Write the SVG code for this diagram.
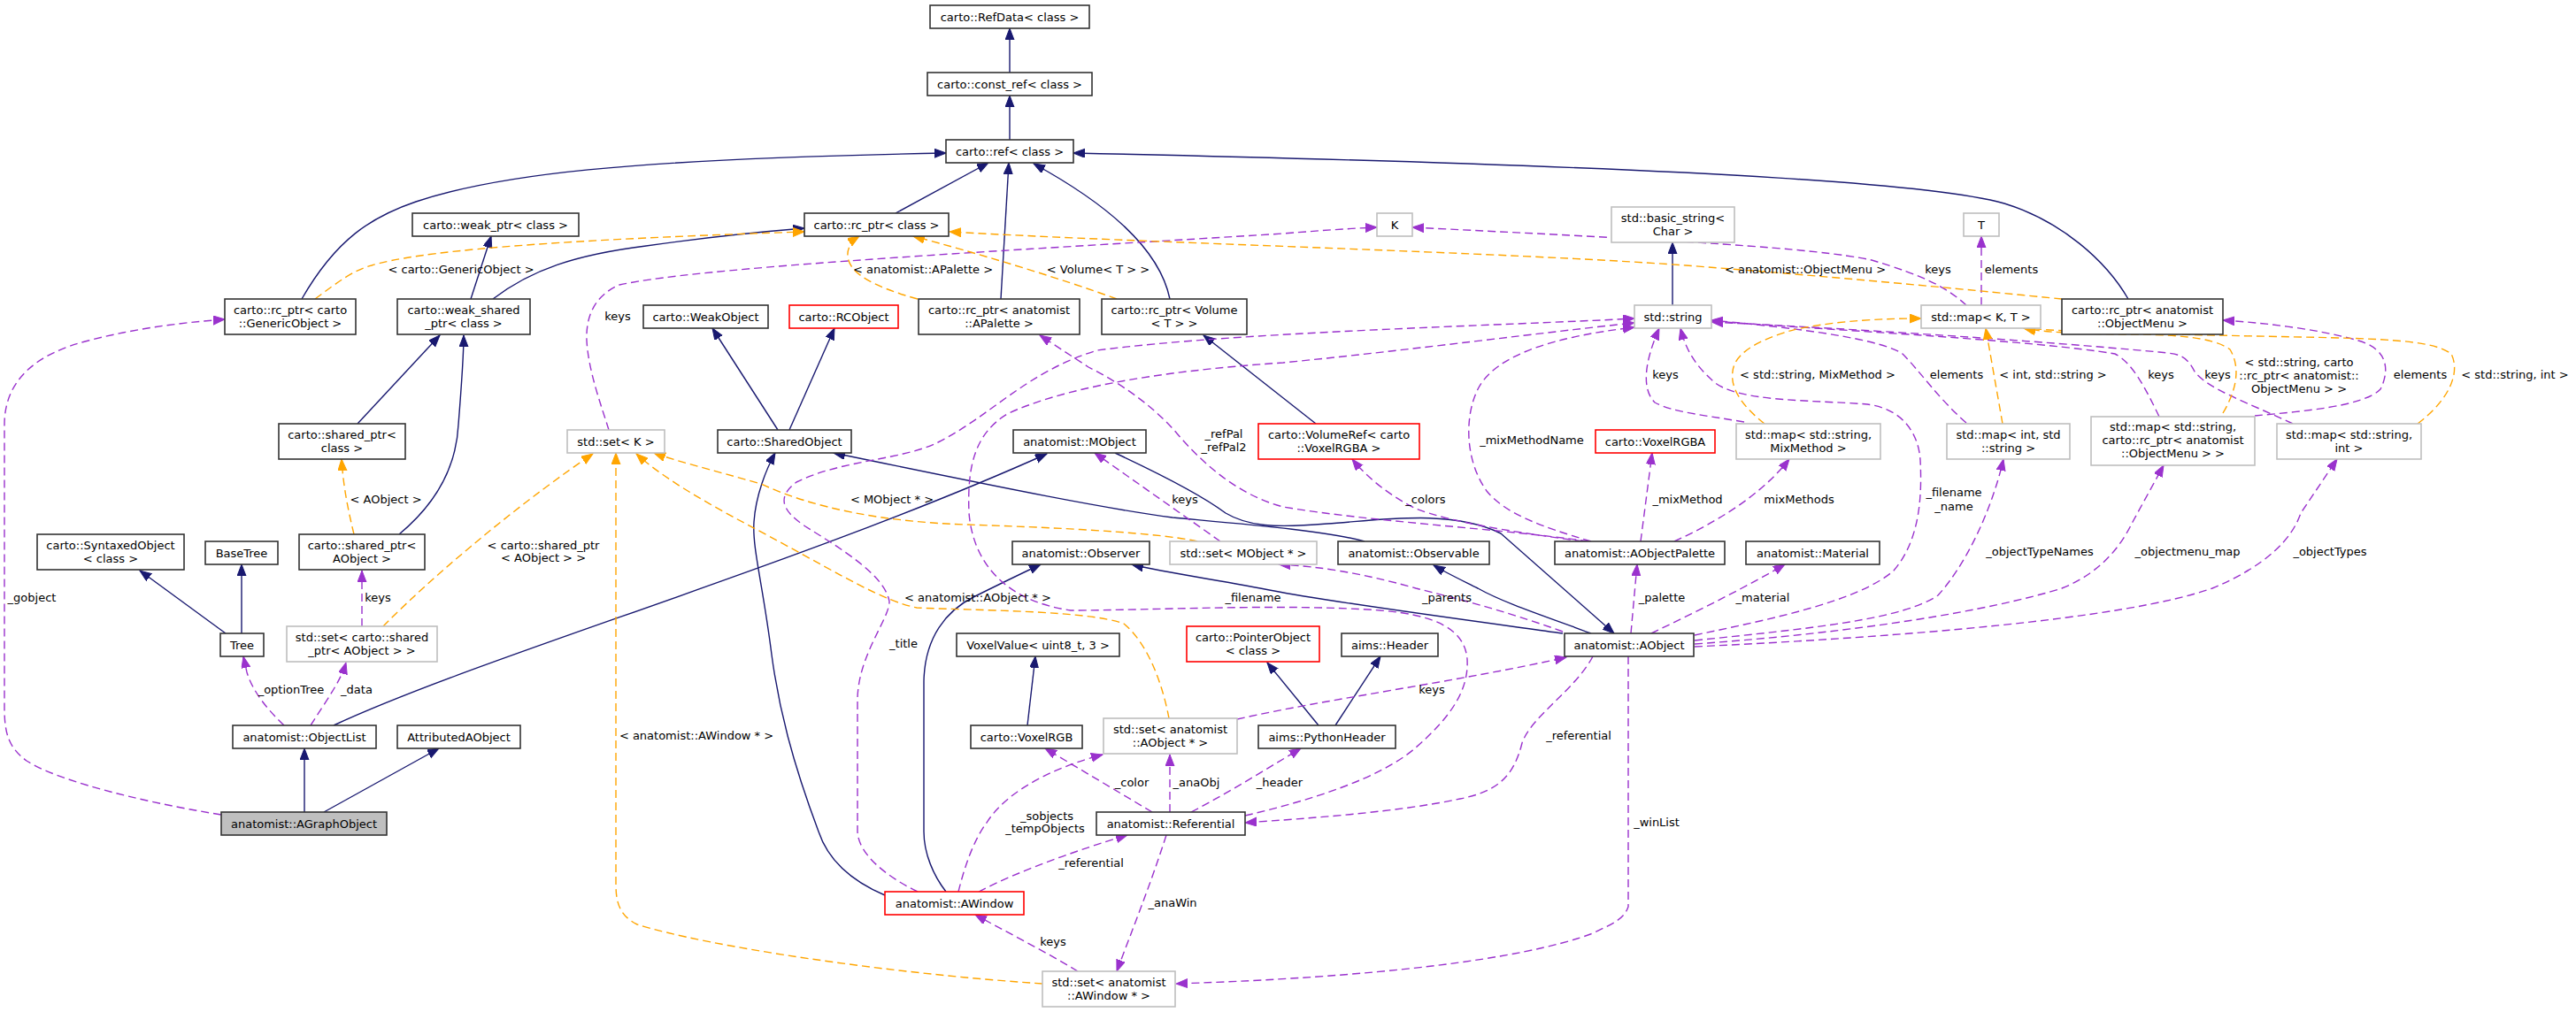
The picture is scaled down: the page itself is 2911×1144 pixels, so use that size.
<svg xmlns="http://www.w3.org/2000/svg" width="2911" height="1144" viewBox="0 0 2911 1144">
<defs>
<style>
text{font-family:"DejaVu Sans","Liberation Sans",sans-serif;font-size:13px;fill:#000;text-anchor:middle}
.doc{fill:#fff;stroke:#333;stroke-width:1.6}
.ext{fill:#fff;stroke:#bfbfbf;stroke-width:1.6}
.red{fill:#fff;stroke:#ff0000;stroke-width:1.6}
.cur{fill:#bfbfbf;stroke:#333;stroke-width:1.6}
.inh{fill:none;stroke:#191970;stroke-width:1.4;marker-end:url(#ai)}
.use{fill:none;stroke:#9a32cd;stroke-width:1.4;stroke-dasharray:9,5;marker-end:url(#au)}
.tpl{fill:none;stroke:#ffa500;stroke-width:1.4;stroke-dasharray:9,5;marker-end:url(#at)}
</style>
<marker id="ai" markerUnits="userSpaceOnUse" markerWidth="14" markerHeight="11" refX="13" refY="5" orient="auto"><path d="M0,0 L13,5 L0,10 z" fill="#191970" stroke="#191970"/></marker>
<marker id="au" markerUnits="userSpaceOnUse" markerWidth="14" markerHeight="11" refX="13" refY="5" orient="auto"><path d="M0,0 L13,5 L0,10 z" fill="#9a32cd" stroke="#9a32cd"/></marker>
<marker id="at" markerUnits="userSpaceOnUse" markerWidth="14" markerHeight="11" refX="13" refY="5" orient="auto"><path d="M0,0 L13,5 L0,10 z" fill="#ffa500" stroke="#ffa500"/></marker>
</defs>
<rect x="0" y="0" width="2911" height="1144" fill="#fff"/>
<g id="edges">
<path class="inh" d="M1141,82 L1141,32"/>
<path class="inh" d="M1141,158 L1141,108"/>
<path class="inh" d="M1012,241 L1117,184"/>
<path class="inh" d="M1131,338 L1140,184"/>
<path class="inh" d="M1322,338 C1310,280 1250,230 1168,185"/>
<path class="inh" d="M341,338 C380,270 420,245 470,228 C560,198 700,180 1069,173"/>
<path class="inh" d="M2405,338 C2380,295 2330,250 2265,230 C2200,212 2000,190 1213,173"/>
<path class="inh" d="M532,338 L555,267"/>
<path class="inh" d="M557,338 C600,305 650,288 730,278 C800,268 860,262 909,258"/>
<path class="inh" d="M404,479 L497,379"/>
<path class="inh" d="M451,604 C480,580 515,540 518,480 C522,430 524,400 524,379"/>
<path class="inh" d="M879,486 L805,371"/>
<path class="inh" d="M892,486 L943,371"/>
<path class="inh" d="M1487,479 L1360,379"/>
<path class="inh" d="M1542,612 C1500,600 1400,592 1325,585 C1250,575 1150,555 942,512"/>
<path class="inh" d="M1260,512 C1320,540 1365,565 1385,580 C1410,595 1440,597 1500,592 C1560,588 1640,575 1696,603 L1824,716"/>
<path class="inh" d="M1798,716 C1750,698 1700,682 1670,665 C1650,655 1635,648 1620,639"/>
<path class="inh" d="M1766,716 C1650,700 1500,680 1440,668 C1380,656 1320,648 1279,638"/>
<path class="inh" d="M1069,1008 C1055,990 1044,965 1044,940 L1044,770 C1045,720 1070,690 1100,675 C1130,660 1155,648 1176,638"/>
<path class="inh" d="M1000,1012 C960,995 935,970 925,940 C895,860 880,800 872,740 C862,660 850,620 852,590 C854,560 866,530 876,512"/>
<path class="inh" d="M377,820 C550,740 900,640 1183,513"/>
<path class="inh" d="M344,918 L344,846"/>
<path class="inh" d="M366,918 L496,846"/>
<path class="inh" d="M255,716 L158,645"/>
<path class="inh" d="M273,716 L273,638"/>
<path class="inh" d="M1161,820 L1170,742"/>
<path class="inh" d="M1490,820 L1432,749"/>
<path class="inh" d="M1509,820 L1560,742"/>
<path class="inh" d="M1890,345 L1890,274"/>

<path class="use" d="M250,921 C150,905 60,880 30,860 C10,845 5,830 5,800 L5,480 C5,430 40,400 100,385 C150,372 200,365 254,361"/>
<path class="use" d="M321,820 C300,800 285,780 279,760 L275,742"/>
<path class="use" d="M351,820 C370,790 385,770 391,749"/>
<path class="use" d="M409,708 L409,645"/>
<path class="use" d="M688,486 C680,460 665,420 663,385 C662,360 670,335 700,322 C800,300 1200,280 1450,264 C1500,260 1530,258 1556,257"/>
<path class="use" d="M2222,345 C2200,325 2175,312 2115,294 C2050,280 1900,272 1596,257"/>
<path class="use" d="M2239,345 L2239,267"/>
<path class="use" d="M1798,612 C1740,595 1700,580 1680,555 C1655,520 1655,470 1670,440 C1690,400 1760,380 1847,370"/>
<path class="use" d="M1971,477 C1930,470 1890,466 1870,455 C1855,440 1858,410 1875,371"/>
<path class="use" d="M1915,718 C2000,700 2100,680 2140,645 C2170,610 2172,560 2170,520 C2168,490 2150,462 2110,457 C2050,452 1960,455 1935,430 C1915,412 1905,395 1899,371"/>
<path class="use" d="M1037,1008 C1000,990 970,965 969,940 L969,790 C970,740 1005,700 1005,680 C1000,650 950,620 910,595 C880,575 880,560 900,545 C950,520 1020,520 1060,500 C1120,470 1160,420 1240,396 C1400,375 1700,368 1847,360"/>
<path class="use" d="M1407,922 C1480,905 1560,880 1600,845 C1640,810 1660,780 1658,745 C1655,710 1620,695 1560,690 C1450,682 1300,690 1210,690 C1140,680 1100,640 1095,580 C1093,530 1100,490 1140,467 C1200,440 1300,420 1450,410 C1600,395 1750,375 1847,365"/>
<path class="use" d="M2222,478 C2190,450 2170,420 2150,400 C2120,380 2000,368 1934,362"/>
<path class="use" d="M2440,471 C2425,440 2410,410 2390,400 C2300,385 2100,375 1934,363"/>
<path class="use" d="M2591,479 C2540,455 2495,440 2480,420 C2470,400 2460,400 2440,398 C2300,385 2100,372 1934,364"/>
<path class="use" d="M2548,470 C2600,465 2670,460 2690,440 C2700,420 2700,395 2665,385 C2620,372 2560,365 2512,362"/>
<path class="use" d="M1915,724 C2050,710 2150,700 2190,673 C2220,640 2250,580 2264,519"/>
<path class="use" d="M1915,728 C2100,715 2250,690 2330,665 C2380,645 2400,610 2410,590 L2445,526"/>
<path class="use" d="M1915,731 C2150,720 2400,700 2500,665 C2560,640 2590,610 2600,580 L2641,519"/>
<path class="use" d="M1843,716 L1850,638"/>
<path class="use" d="M1866,716 C1920,690 1980,660 2017,638"/>
<path class="use" d="M1766,714 C1700,690 1640,675 1600,665 C1540,648 1490,640 1445,638"/>
<path class="use" d="M1379,612 L1237,512"/>
<path class="use" d="M1789,612 C1700,600 1640,590 1600,575 C1570,560 1545,540 1528,519"/>
<path class="use" d="M1795,612 C1700,598 1550,590 1450,573 C1400,560 1360,525 1330,490 C1300,455 1260,430 1230,415 L1175,379"/>
<path class="use" d="M1854,612 L1867,512"/>
<path class="use" d="M1892,612 C1940,590 1990,560 2022,519"/>
<path class="use" d="M1398,813 C1500,790 1650,770 1770,743"/>
<path class="use" d="M1302,918 L1181,846"/>
<path class="use" d="M1322,918 L1322,853"/>
<path class="use" d="M1346,918 C1390,895 1430,870 1470,846"/>
<path class="use" d="M1083,1008 C1090,980 1100,950 1115,930 C1140,890 1200,865 1246,853"/>
<path class="use" d="M1106,1008 C1150,985 1220,960 1274,944"/>
<path class="use" d="M1800,742 C1780,780 1730,810 1720,840 C1710,880 1690,895 1650,903 C1580,918 1480,925 1407,930"/>
<path class="use" d="M1318,944 C1300,1000 1280,1050 1262,1098"/>
<path class="use" d="M1218,1098 C1180,1075 1140,1055 1102,1034"/>
<path class="use" d="M1840,742 L1840,1025 C1835,1040 1820,1045 1800,1055 C1720,1085 1550,1105 1329,1112"/>

<path class="tpl" d="M356,338 C380,320 400,305 420,300 C470,285 600,272 909,262"/>
<path class="tpl" d="M1037,338 C990,325 960,310 958,290 C957,280 963,272 971,267"/>
<path class="tpl" d="M1262,338 C1200,315 1100,285 1032,267"/>
<path class="tpl" d="M2330,338 C2250,330 2100,315 1905,300 C1700,285 1300,275 1073,262"/>
<path class="tpl" d="M400,604 C393,575 388,550 386,519"/>
<path class="tpl" d="M433,708 C500,640 600,560 670,513"/>
<path class="tpl" d="M1178,1112 C1000,1100 800,1070 720,1045 C700,1035 696,1020 696,1000 L696,512"/>
<path class="tpl" d="M1321,812 C1315,780 1300,730 1270,705 C1230,690 1100,690 1036,687 C1000,680 950,650 880,612 C830,585 760,550 719,513"/>
<path class="tpl" d="M1353,612 C1300,600 1150,595 1092,593 C1000,590 920,575 860,547 C800,530 760,520 739,512"/>
<path class="tpl" d="M2263,479 L2244,371"/>
<path class="tpl" d="M1994,479 C1970,460 1955,440 1958,420 C1960,395 2000,380 2030,372 C2080,362 2130,360 2171,360"/>
<path class="tpl" d="M2512,467 C2528,440 2532,415 2520,395 C2500,380 2450,378 2400,378 C2350,377 2310,376 2287,371"/>
<path class="tpl" d="M2732,479 C2770,450 2780,420 2770,400 C2750,385 2700,383 2600,381 C2450,378 2350,376 2287,371"/>

<g id="edge-labels">
<text x="698" y="361.5">keys</text>
<text x="521" y="309">&lt; carto::GenericObject &gt;</text>
<text x="1043" y="309">&lt; anatomist::APalette &gt;</text>
<text x="1241" y="309">&lt; Volume&lt; T &gt; &gt;</text>
<text x="2040" y="309">&lt; anatomist::ObjectMenu &gt;</text>
<text x="2190" y="309">keys</text>
<text x="2273" y="309">elements</text>
<text x="436" y="568.5">&lt; AObject &gt;</text>
<text x="36" y="680">_gobject</text>
<text x="614" y="621">&lt; carto::shared_ptr</text>
<text x="614" y="635">&lt; AObject &gt; &gt;</text>
<text x="427" y="680">keys</text>
<text x="329" y="784">_optionTree</text>
<text x="403" y="784">_data</text>
<text x="787" y="836">&lt; anatomist::AWindow * &gt;</text>
<text x="1383" y="495">_refPal</text>
<text x="1383" y="509.5">_refPal2</text>
<text x="1008" y="569">&lt; MObject * &gt;</text>
<text x="1339" y="569">keys</text>
<text x="1105" y="680">&lt; anatomist::AObject * &gt;</text>
<text x="1416" y="680">_filename</text>
<text x="1021" y="732">_title</text>
<text x="1882" y="428">keys</text>
<text x="2054" y="428">&lt; std::string, MixMethod &gt;</text>
<text x="1731" y="502">_mixMethodName</text>
<text x="1611" y="569">_colors</text>
<text x="1907" y="569">_mixMethod</text>
<text x="2033" y="569">mixMethods</text>
<text x="1635" y="680">_parents</text>
<text x="1878" y="680">_palette</text>
<text x="1992" y="680">_material</text>
<text x="2211" y="428">elements</text>
<text x="2320" y="428">&lt; int, std::string &gt;</text>
<text x="2442" y="428">keys</text>
<text x="2506" y="428">keys</text>
<text x="2598" y="413.5">&lt; std::string, carto</text>
<text x="2598" y="428.5">::rc_ptr&lt; anatomist::</text>
<text x="2598" y="443.5">ObjectMenu &gt; &gt;</text>
<text x="2735" y="428">elements</text>
<text x="2842" y="428">&lt; std::string, int &gt;</text>
<text x="2208" y="561">_filename</text>
<text x="2208" y="576.5">_name</text>
<text x="2305" y="628">_objectTypeNames</text>
<text x="2472" y="628">_objectmenu_map</text>
<text x="2633" y="628">_objectTypes</text>
<text x="1279" y="888.5">_color</text>
<text x="1352" y="888.5">_anaObj</text>
<text x="1446" y="888.5">_header</text>
<text x="1183" y="927">_sobjects</text>
<text x="1181" y="941">_tempObjects</text>
<text x="1233" y="980">_referential</text>
<text x="1325" y="1025">_anaWin</text>
<text x="1190" y="1069">keys</text>
<text x="1618" y="784">keys</text>
<text x="1784" y="836">_referential</text>
<text x="1872" y="934">_winList</text>
</g>
</g>

<g id="n_RefData"><rect class="doc" x="1051" y="6" width="180" height="26"/><text x="1141" y="23.5">carto::RefData&lt; class &gt;</text></g>
<g id="n_const_ref"><rect class="doc" x="1048" y="82" width="186" height="26"/><text x="1141" y="99.5">carto::const_ref&lt; class &gt;</text></g>
<g id="n_ref"><rect class="doc" x="1069" y="158" width="144" height="26"/><text x="1141" y="175.5">carto::ref&lt; class &gt;</text></g>
<g id="n_rc_ptr_class"><rect class="doc" x="909" y="241" width="163" height="26"/><text x="990.5" y="258.5">carto::rc_ptr&lt; class &gt;</text></g>
<g id="n_weak_ptr"><rect class="doc" x="466" y="241" width="188" height="26"/><text x="560" y="258.5">carto::weak_ptr&lt; class &gt;</text></g>
<g id="n_K"><rect class="ext" x="1556" y="241" width="40" height="26"/><text x="1576" y="258.5">K</text></g>
<g id="n_basic_string"><rect class="ext" x="1821" y="234" width="139" height="40"/><text x="1890.5" y="251">std::basic_string&lt;</text><text x="1890.5" y="265.5">Char &gt;</text></g>
<g id="n_T"><rect class="ext" x="2219" y="241" width="40" height="26"/><text x="2239" y="258.5">T</text></g>
<g id="n_rc_ptr_generic"><rect class="doc" x="254" y="338" width="148" height="40"/><text x="328" y="355">carto::rc_ptr&lt; carto</text><text x="328" y="369.5">::GenericObject &gt;</text></g>
<g id="n_weak_shared_ptr"><rect class="doc" x="449" y="338" width="150" height="40"/><text x="524" y="355">carto::weak_shared</text><text x="524" y="369.5">_ptr&lt; class &gt;</text></g>
<g id="n_WeakObject"><rect class="doc" x="727" y="345" width="141" height="26"/><text x="797.5" y="362.5">carto::WeakObject</text></g>
<g id="n_RCObject"><rect class="red" x="892" y="345" width="123" height="26"/><text x="953.5" y="362.5">carto::RCObject</text></g>
<g id="n_rc_ptr_APalette"><rect class="doc" x="1038" y="338" width="182" height="40"/><text x="1129" y="355">carto::rc_ptr&lt; anatomist</text><text x="1129" y="369.5">::APalette &gt;</text></g>
<g id="n_rc_ptr_Volume"><rect class="doc" x="1245" y="338" width="164" height="40"/><text x="1327" y="355">carto::rc_ptr&lt; Volume</text><text x="1327" y="369.5">&lt; T &gt; &gt;</text></g>
<g id="n_std_string"><rect class="ext" x="1847" y="345" width="87" height="26"/><text x="1890.5" y="362.5">std::string</text></g>
<g id="n_map_KT"><rect class="ext" x="2171" y="345" width="135" height="26"/><text x="2238.5" y="362.5">std::map&lt; K, T &gt;</text></g>
<g id="n_rc_ptr_ObjectMenu"><rect class="doc" x="2330" y="338" width="182" height="40"/><text x="2421" y="355">carto::rc_ptr&lt; anatomist</text><text x="2421" y="369.5">::ObjectMenu &gt;</text></g>
<g id="n_shared_ptr_class"><rect class="doc" x="315" y="479" width="143" height="40"/><text x="386.5" y="496">carto::shared_ptr&lt;</text><text x="386.5" y="510.5">class &gt;</text></g>
<g id="n_set_K"><rect class="ext" x="641" y="486" width="110" height="26"/><text x="696" y="503.5">std::set&lt; K &gt;</text></g>
<g id="n_SharedObject"><rect class="doc" x="811" y="486" width="151" height="26"/><text x="886.5" y="503.5">carto::SharedObject</text></g>
<g id="n_MObject"><rect class="doc" x="1145" y="486" width="150" height="26"/><text x="1220" y="503.5">anatomist::MObject</text></g>
<g id="n_VolumeRef"><rect class="red" x="1422" y="479" width="182" height="40"/><text x="1513" y="496">carto::VolumeRef&lt; carto</text><text x="1513" y="510.5">::VoxelRGBA &gt;</text></g>
<g id="n_VoxelRGBA"><rect class="red" x="1803" y="486" width="135" height="26"/><text x="1870.5" y="503.5">carto::VoxelRGBA</text></g>
<g id="n_map_string_MixMethod"><rect class="ext" x="1962" y="479" width="163" height="40"/><text x="2043.5" y="496">std::map&lt; std::string,</text><text x="2043.5" y="510.5">MixMethod &gt;</text></g>
<g id="n_map_int_string"><rect class="ext" x="2200" y="479" width="139" height="40"/><text x="2269.5" y="496">std::map&lt; int, std</text><text x="2269.5" y="510.5">::string &gt;</text></g>
<g id="n_map_string_rcptr"><rect class="ext" x="2363" y="471" width="185" height="55"/><text x="2455.5" y="487">std::map&lt; std::string,</text><text x="2455.5" y="502">carto::rc_ptr&lt; anatomist</text><text x="2455.5" y="517">::ObjectMenu &gt; &gt;</text></g>
<g id="n_map_string_int"><rect class="ext" x="2573" y="479" width="163" height="40"/><text x="2654.5" y="496">std::map&lt; std::string,</text><text x="2654.5" y="510.5">int &gt;</text></g>
<g id="n_SyntaxedObject"><rect class="doc" x="42" y="604" width="166" height="40"/><text x="125" y="621">carto::SyntaxedObject</text><text x="125" y="635.5">&lt; class &gt;</text></g>
<g id="n_BaseTree"><rect class="doc" x="232" y="612" width="82" height="26"/><text x="273" y="629.5">BaseTree</text></g>
<g id="n_shared_ptr_AObject"><rect class="doc" x="338" y="604" width="142" height="40"/><text x="409" y="621">carto::shared_ptr&lt;</text><text x="409" y="635.5">AObject &gt;</text></g>
<g id="n_Observer"><rect class="doc" x="1144" y="612" width="155" height="26"/><text x="1221.5" y="629.5">anatomist::Observer</text></g>
<g id="n_set_MObject"><rect class="ext" x="1322" y="612" width="166" height="26"/><text x="1405" y="629.5">std::set&lt; MObject * &gt;</text></g>
<g id="n_Observable"><rect class="doc" x="1512" y="612" width="171" height="26"/><text x="1597.5" y="629.5">anatomist::Observable</text></g>
<g id="n_AObjectPalette"><rect class="doc" x="1757" y="612" width="192" height="26"/><text x="1853" y="629.5">anatomist::AObjectPalette</text></g>
<g id="n_Material"><rect class="doc" x="1973" y="612" width="151" height="26"/><text x="2048.5" y="629.5">anatomist::Material</text></g>
<g id="n_Tree"><rect class="doc" x="249" y="716" width="49" height="26"/><text x="273.5" y="733.5">Tree</text></g>
<g id="n_set_shared_ptr"><rect class="ext" x="324" y="708" width="170" height="40"/><text x="409" y="725">std::set&lt; carto::shared</text><text x="409" y="739.5">_ptr&lt; AObject &gt; &gt;</text></g>
<g id="n_VoxelValue"><rect class="doc" x="1081" y="716" width="184" height="26"/><text x="1173" y="733.5">VoxelValue&lt; uint8_t, 3 &gt;</text></g>
<g id="n_PointerObject"><rect class="red" x="1341" y="708" width="150" height="40"/><text x="1416" y="725">carto::PointerObject</text><text x="1416" y="739.5">&lt; class &gt;</text></g>
<g id="n_Header"><rect class="doc" x="1516" y="716" width="109" height="26"/><text x="1570.5" y="733.5">aims::Header</text></g>
<g id="n_AObject"><rect class="doc" x="1768" y="716" width="146" height="26"/><text x="1841" y="733.5">anatomist::AObject</text></g>
<g id="n_ObjectList"><rect class="doc" x="263" y="820" width="162" height="26"/><text x="344" y="837.5">anatomist::ObjectList</text></g>
<g id="n_AttributedAObject"><rect class="doc" x="449" y="820" width="139" height="26"/><text x="518.5" y="837.5">AttributedAObject</text></g>
<g id="n_VoxelRGB"><rect class="doc" x="1097" y="820" width="126" height="26"/><text x="1160" y="837.5">carto::VoxelRGB</text></g>
<g id="n_set_AObject"><rect class="ext" x="1247" y="812" width="151" height="40"/><text x="1322.5" y="829">std::set&lt; anatomist</text><text x="1322.5" y="843.5">::AObject * &gt;</text></g>
<g id="n_PythonHeader"><rect class="doc" x="1422" y="820" width="155" height="26"/><text x="1499.5" y="837.5">aims::PythonHeader</text></g>
<g id="n_AGraphObject"><rect class="cur" x="250" y="918" width="187" height="26"/><text x="343.5" y="935.5">anatomist::AGraphObject</text></g>
<g id="n_Referential"><rect class="doc" x="1239" y="918" width="168" height="26"/><text x="1323" y="935.5">anatomist::Referential</text></g>
<g id="n_AWindow"><rect class="red" x="1000" y="1008" width="157" height="26"/><text x="1078.5" y="1025.5">anatomist::AWindow</text></g>
<g id="n_set_AWindow"><rect class="ext" x="1178" y="1098" width="150" height="40"/><text x="1253" y="1115">std::set&lt; anatomist</text><text x="1253" y="1129.5">::AWindow * &gt;</text></g>
</svg>
